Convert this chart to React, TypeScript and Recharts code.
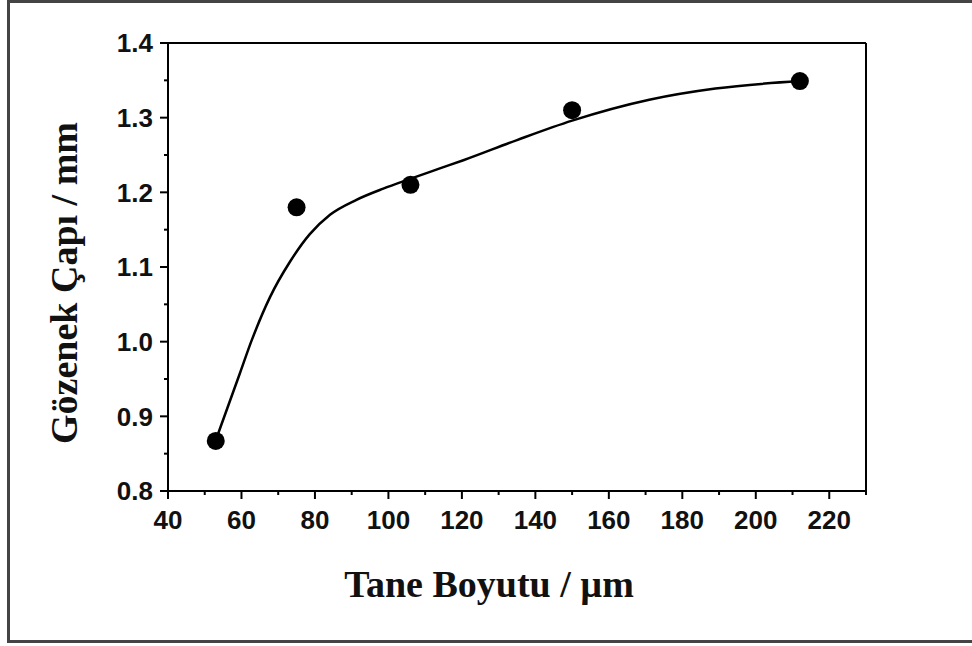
import React from "react";
import {
  ComposedChart,
  Line,
  Scatter,
  XAxis,
  YAxis,
  ReferenceLine,
} from "recharts";

// measured points
const grainSize = [53, 75, 106, 150, 212];
const poreDiameter = [0.867, 1.18, 1.21, 1.31, 1.349];

// fitted curve
const curveX = [53, 59.6, 62.8, 67.8, 73.2, 78.6, 84.1, 91.3, 98.6, 105.9, 114, 120.4, 135, 150, 171, 189, 212];
const curveY = [0.868, 0.958, 1.002, 1.06, 1.107, 1.144, 1.17, 1.19, 1.205, 1.218, 1.232, 1.243, 1.27, 1.296, 1.324, 1.339, 1.349];

const xTicks = [40, 50, 60, 70, 80, 90, 100, 110, 120, 130, 140, 150, 160, 170, 180, 190, 200, 210, 220, 230];
const yTicks = [0.8, 0.85, 0.9, 0.95, 1.0, 1.05, 1.1, 1.15, 1.2, 1.25, 1.3, 1.35, 1.4];

const points = grainSize.map((x, i) => ({ x, y: poreDiameter[i] }));
const curve = curveX.map((x, i) => ({ x, y: curveY[i] }));

const tickFont = "'Liberation Sans', Arial, sans-serif";
const titleFont = "'Liberation Serif', 'Times New Roman', serif";

const XTick = (props: any) => {
  const { x, y, payload } = props;
  const v = payload.value;
  const major = v % 20 === 0;
  return (
    <g>
      <line x1={x} x2={x} y1={y} y2={y + (major ? 8 : 4)} stroke="#000" strokeWidth={2} />
      {major && (
        <text x={x} y={y + 38} textAnchor="middle" fontFamily={tickFont} fontWeight="bold" fontSize={26} fill="#111">
          {v}
        </text>
      )}
    </g>
  );
};

const YTick = (props: any) => {
  const { x, y, payload } = props;
  const v = payload.value;
  const major = Math.round(v * 100) % 10 === 0;
  return (
    <g>
      <line x1={x} x2={x - (major ? 8 : 4)} y1={y} y2={y} stroke="#000" strokeWidth={2} />
      {major && (
        <text x={x - 15} y={y} dy="0.36em" textAnchor="end" fontFamily={tickFont} fontWeight="bold" fontSize={26} fill="#111">
          {v.toFixed(1)}
        </text>
      )}
    </g>
  );
};

const YTitle = (props: any) => {
  const { viewBox } = props;
  const cy = viewBox.y + viewBox.height / 2 + 16;
  return (
    <text
      transform={`translate(77, ${cy}) rotate(-90)`}
      textAnchor="middle"
      fontFamily={titleFont}
      fontWeight="bold"
      fontSize={38}
      fill="#111"
    >
      Gözenek Çapı / mm
    </text>
  );
};

const XTitle = (props: any) => {
  const { viewBox } = props;
  const cx = viewBox.x + viewBox.width / 2 - 28;
  return (
    <text x={cx} y={597} textAnchor="middle" fontFamily={titleFont} fontWeight="bold" fontSize={38} fill="#111">
      Tane Boyutu / µm
    </text>
  );
};

const Dot = (props: any) => <circle cx={props.cx} cy={props.cy} r={9} fill="#000" />;

const App: React.FC = () => {
  return (
    <div style={{ position: "fixed", left: 0, top: 0, width: 972, height: 646, background: "#fff" }}>
      <div
        style={{
          position: "absolute",
          left: 7,
          top: 0,
          width: 972 - 7,
          height: 643,
          boxSizing: "border-box",
          borderLeft: "3px solid #444",
          borderTop: "3px solid #444",
          borderBottom: "3px solid #444",
        }}
      />
      <div style={{ position: "absolute", left: 0, top: 0 }}>
        <ComposedChart width={972} height={646} margin={{ top: 43, right: 106, bottom: 0, left: 0 }}>
          <XAxis
            dataKey="x"
            type="number"
            domain={[40, 230]}
            ticks={xTicks}
            interval={0}
            tickSize={0}
            tickMargin={0}
            tickLine={false}
            tick={<XTick />}
            axisLine={{ stroke: "#000", strokeWidth: 2 }}
            height={155}
            allowDataOverflow
            label={<XTitle />}
          />
          <YAxis
            dataKey="y"
            type="number"
            domain={[0.8, 1.4]}
            ticks={yTicks}
            interval={0}
            tickSize={0}
            tickMargin={0}
            tickLine={false}
            tick={<YTick />}
            axisLine={{ stroke: "#000", strokeWidth: 2 }}
            width={168}
            allowDataOverflow
            label={<YTitle />}
          />
          {/* top and right sides of the frame */}
          <ReferenceLine y={1.4} stroke="#000" strokeWidth={2} />
          <ReferenceLine x={230} stroke="#000" strokeWidth={2} />
          <Line
            data={curve}
            dataKey="y"
            type="monotone"
            stroke="#000"
            strokeWidth={2.5}
            dot={false}
            activeDot={false}
            isAnimationActive={false}
          />
          <Scatter data={points} dataKey="y" shape={<Dot />} isAnimationActive={false} />
        </ComposedChart>
      </div>
    </div>
  );
};

export default App;
